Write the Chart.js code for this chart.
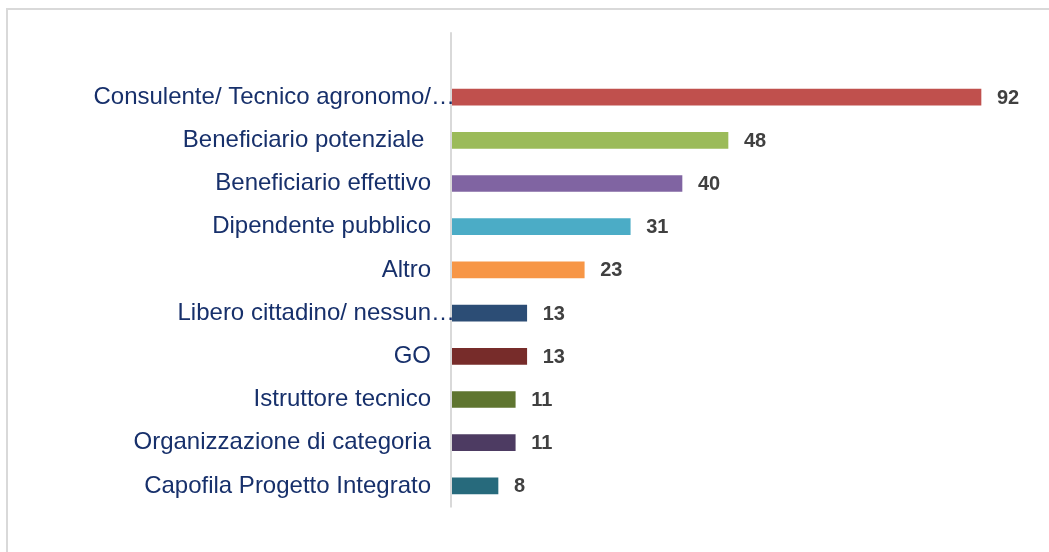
<!DOCTYPE html>
<html>
<head>
<meta charset="utf-8">
<script src="https://cdn.jsdelivr.net/npm/chart.js@4"></script>
<style>
  html, body { margin: 0; padding: 0; background: #ffffff; }
  #wrap { position: relative; width: 1049px; height: 552px; overflow: hidden; }
  #frame { position: absolute; left: 6px; top: 8px; width: 1200px; height: 700px;
           border-top: 2px solid #d9d9d9; border-left: 2px solid #d9d9d9; box-sizing: border-box; }
  #c { position: absolute; left: 0; top: 0; }
</style>
</head>
<body>
<div id="wrap">
  <div id="frame"></div>
  <canvas id="c" width="1049" height="552"></canvas>
</div>
<script>
const categories = [
  "Consulente/ Tecnico agronomo/\u2026",
  "Beneficiario potenziale ",
  "Beneficiario effettivo",
  "Dipendente pubblico",
  "Altro",
  "Libero cittadino/ nessun\u2026",
  "GO",
  "Istruttore tecnico",
  "Organizzazione di categoria",
  "Capofila Progetto Integrato"
];
const values = [92, 48, 40, 31, 23, 13, 13, 11, 11, 8];
const barColors = [
  "#C0504D", "#9BBB59", "#8064A2", "#4BACC6", "#F79646",
  "#2C4D75", "#772C2A", "#5F7530", "#4D3B62", "#276A7C"
];

const FONT = "'Liberation Sans', Arial, Helvetica, sans-serif";

const axisLine = {
  id: 'axisLine',
  beforeDatasetsDraw(chart) {
    const { ctx } = chart;
    const x = chart.scales.x.getPixelForValue(0);
    const ys = chart.scales.y;
    const step = ys.getPixelForValue(1) - ys.getPixelForValue(0);
    ctx.save();
    ctx.strokeStyle = '#d9d9d9';
    ctx.lineWidth = 2;
    ctx.beginPath();
    ctx.moveTo(x - 1, ys.top - step);
    ctx.lineTo(x - 1, ys.bottom);
    ctx.stroke();
    ctx.restore();
  }
};

const categoryLabels = {
  id: 'categoryLabels',
  afterDatasetsDraw(chart) {
    const { ctx } = chart;
    const ys = chart.scales.y;
    const right = chart.scales.x.getPixelForValue(0) - 21;
    ctx.save();
    ctx.font = "24px " + FONT;
    ctx.fillStyle = '#17306B';
    ctx.textBaseline = 'middle';
    categories.forEach((label, i) => {
      const y = ys.getPixelForValue(i);
      if (label.endsWith('\u2026')) {
        const head = label.slice(0, -1);
        const w = ctx.measureText(head).width;
        ctx.textAlign = 'left';
        ctx.fillText(label, right - w, y);
      } else {
        ctx.textAlign = 'right';
        ctx.fillText(label, right, y);
      }
    });
    ctx.restore();
  }
};

const valueLabels = {
  id: 'valueLabels',
  afterDatasetsDraw(chart) {
    const { ctx } = chart;
    const meta = chart.getDatasetMeta(0);
    ctx.save();
    ctx.font = "bold 20px " + FONT;
    ctx.fillStyle = '#404040';
    ctx.textAlign = 'left';
    ctx.textBaseline = 'middle';
    meta.data.forEach((bar, i) => {
      ctx.fillText(String(values[i]), bar.x + 16, bar.y + 1);
    });
    ctx.restore();
  }
};

new Chart(document.getElementById('c'), {
  type: 'bar',
  data: {
    labels: categories,
    datasets: [{
      data: values,
      backgroundColor: barColors,
      borderWidth: 0,
      barThickness: 16
    }]
  },
  options: {
    indexAxis: 'y',
    responsive: false,
    animation: false,
    devicePixelRatio: 1,
    layout: { padding: { top: 75.5, bottom: 44.5, left: 0, right: 22 } },
    plugins: { legend: { display: false }, tooltip: { enabled: false } },
    scales: {
      x: {
        display: false,
        min: 0,
        max: 100
      },
      y: {
        grid: { display: false, drawTicks: false },
        border: { display: false },
        ticks: { display: false },
        afterFit(scale) { scale.width = 452; }
      }
    }
  },
  plugins: [axisLine, categoryLabels, valueLabels]
});
</script>
</body>
</html>
